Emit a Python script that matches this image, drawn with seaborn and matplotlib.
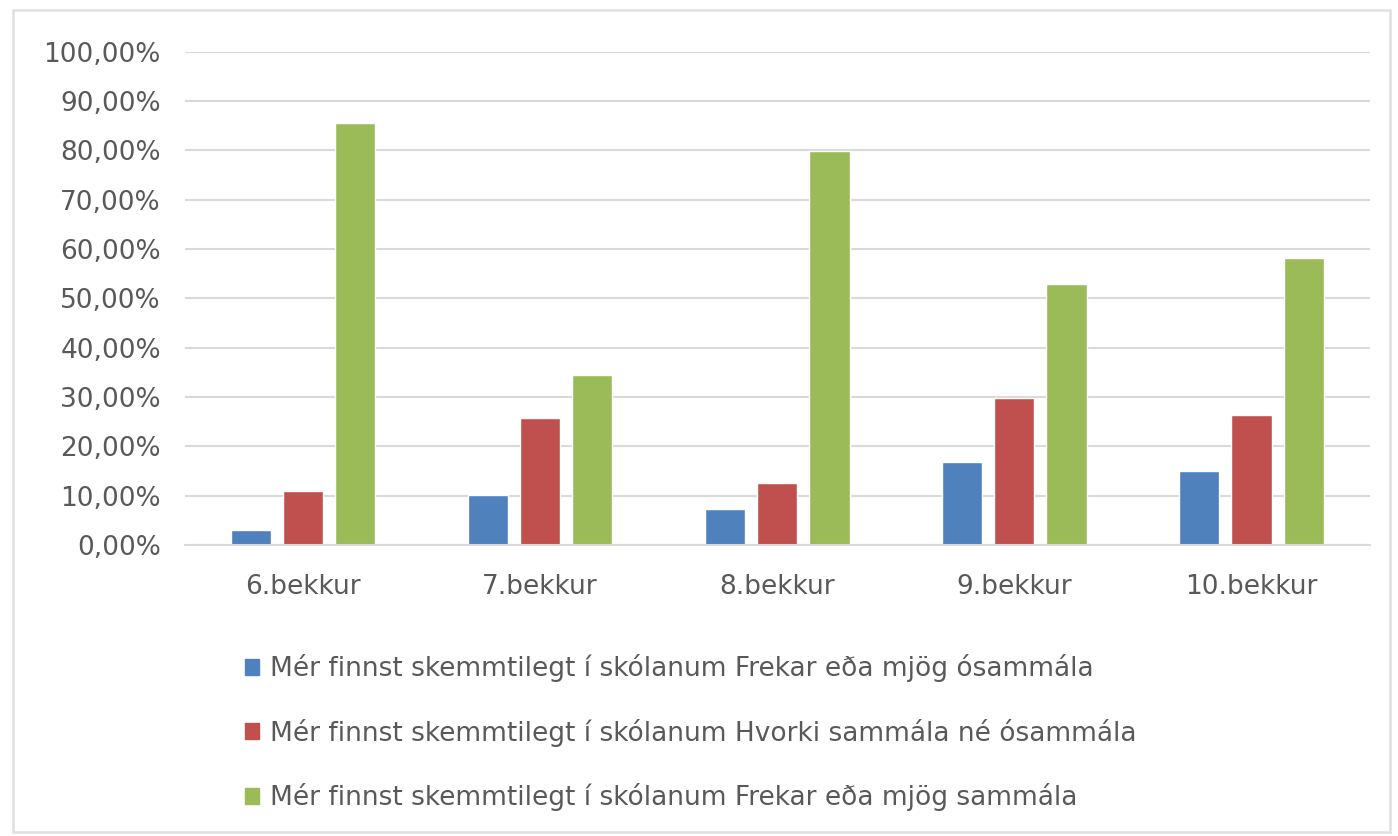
import matplotlib
matplotlib.use("Agg")
import matplotlib.pyplot as plt
import matplotlib.patches as mpatches
from matplotlib.ticker import FuncFormatter, MultipleLocator
import seaborn as sns
import pandas as pd

categories = ["6.bekkur", "7.bekkur", "8.bekkur", "9.bekkur", "10.bekkur"]
series_names = [
    "Mér finnst skemmtilegt í skólanum Frekar eða mjög ósammála",
    "Mér finnst skemmtilegt í skólanum Hvorki sammála né ósammála",
    "Mér finnst skemmtilegt í skólanum Frekar eða mjög sammála",
]
osammala = [3.0, 10.2, 7.4, 16.8, 15.1]
hvorki = [10.9, 25.7, 12.6, 29.9, 26.3]
sammala = [85.5, 34.5, 79.8, 53.0, 58.3]
colors = ["#4F81BD", "#C0504D", "#9BBB59"]

rows = []
for name, vals in zip(series_names, [osammala, hvorki, sammala]):
    for c, v in zip(categories, vals):
        rows.append({"bekkur": c, "svar": name, "hlutfall": v})
df = pd.DataFrame(rows)

sns.set_style("white")
plt.rcParams["font.family"] = ["DejaVu Sans"]

fig = plt.figure(figsize=(13.98, 8.36), dpi=100)
ax = fig.add_axes([0.132, 0.348, 0.848, 0.590])

sns.barplot(data=df, x="bekkur", y="hlutfall", hue="svar", order=categories,
            hue_order=series_names, palette=colors, width=0.66, gap=0.23,
            saturation=1, ax=ax, legend=False)

ax.set_ylim(0, 100)
ax.set_xlim(-0.5, 4.5)
ax.yaxis.set_major_locator(MultipleLocator(10))
ax.yaxis.set_major_formatter(FuncFormatter(lambda v, p: f"{v:.2f}".replace(".", ",") + "%"))
ax.grid(axis="y", color="#D9D9D9", linewidth=1.5)
ax.set_axisbelow(True)
for s in ["top", "right", "left"]:
    ax.spines[s].set_visible(False)
ax.spines["bottom"].set_color("#D9D9D9")
ax.spines["bottom"].set_linewidth(1.5)
ax.set_xlabel("")
ax.set_ylabel("")
ax.tick_params(axis="y", labelsize=19, labelcolor="#595959", length=0, pad=17)
ax.tick_params(axis="x", labelsize=19, labelcolor="#595959", length=0, pad=21)

handles = [mpatches.Patch(color=c, label=n) for c, n in zip(colors, series_names)]
leg = fig.legend(handles=handles, loc="upper left", bbox_to_anchor=(0.158, 0.246),
                 frameon=False, fontsize=19, labelcolor="#595959",
                 handlelength=0.55, handleheight=0.55, handletextpad=0.4,
                 labelspacing=1.38)

fig.patches.append(mpatches.Rectangle((0.009, 0.005), 0.985, 0.983,
                                      transform=fig.transFigure, fill=False,
                                      edgecolor="#E0E0E0", linewidth=1.8))

fig.savefig("out.png", dpi=100, facecolor="white")
